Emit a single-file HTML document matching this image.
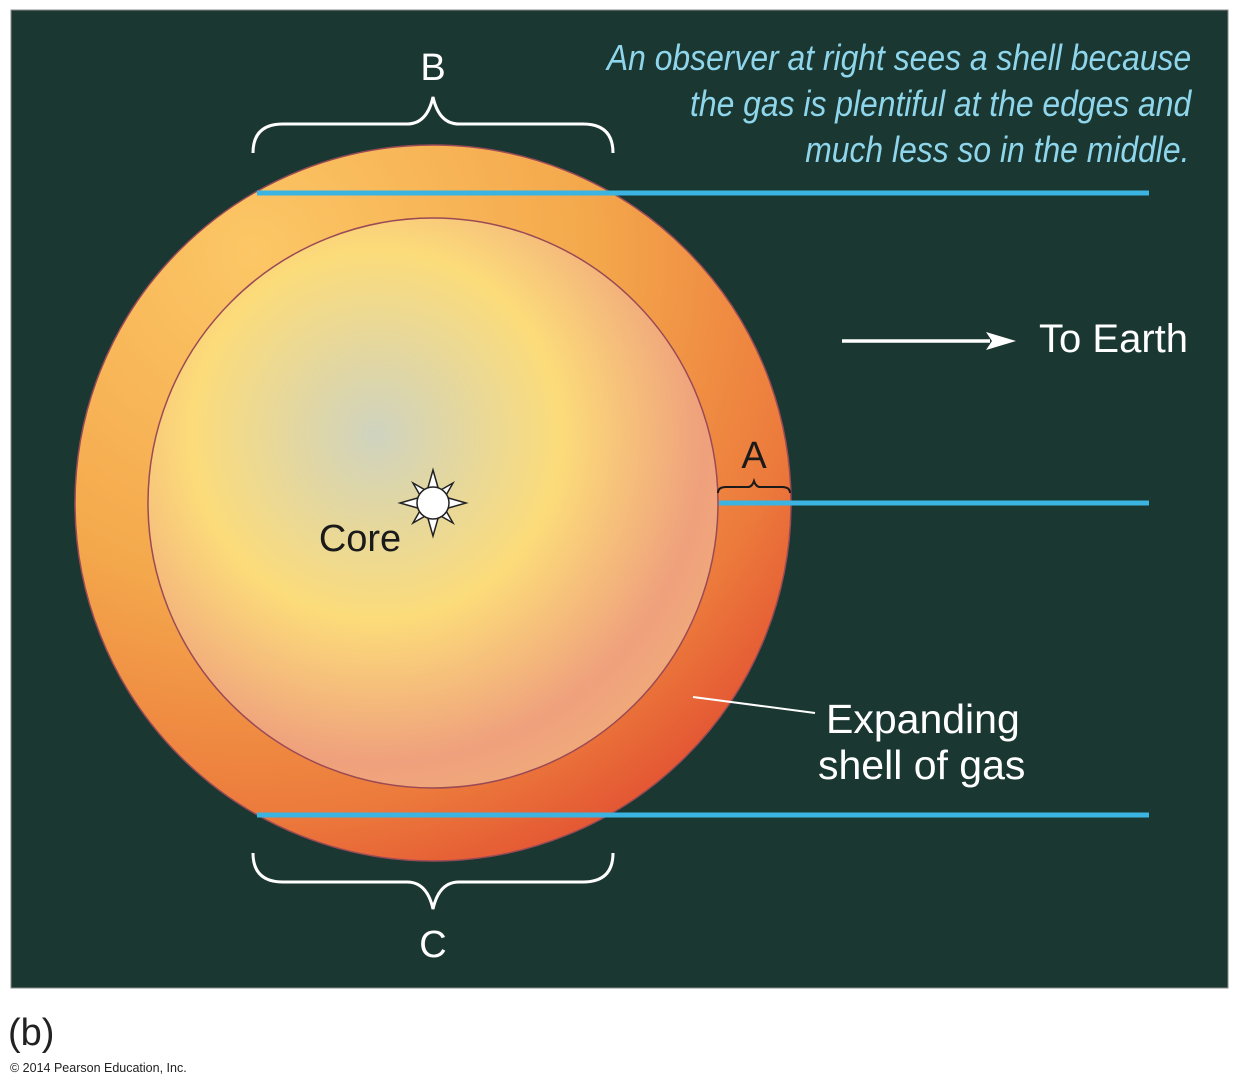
<!DOCTYPE html>
<html><head><meta charset="utf-8"><style>
html,body{margin:0;padding:0;background:#fff;}
body{width:1239px;height:1088px;overflow:hidden;position:relative;font-family:"Liberation Sans",sans-serif;}
</style></head><body>
<svg width="1239" height="1088" viewBox="0 0 1239 1088" xmlns="http://www.w3.org/2000/svg" style="position:absolute;left:0;top:0">
<defs>
<radialGradient id="outer" cx="0.25" cy="0.15" r="1.05">
<stop offset="0" stop-color="#fcc766"/>
<stop offset="0.45" stop-color="#f4a84c"/>
<stop offset="0.75" stop-color="#ec7a3c"/>
<stop offset="1" stop-color="#dd3a2c"/>
</radialGradient>
<radialGradient id="inner" cx="0.4" cy="0.38" r="0.72">
<stop offset="0" stop-color="#cfd3bf"/>
<stop offset="0.45" stop-color="#fcdc7a"/>
<stop offset="0.8" stop-color="#efa07c"/>
<stop offset="1" stop-color="#f2b07a"/>
</radialGradient>
</defs>
<rect x="11" y="10" width="1217" height="978" fill="#1a3831" stroke="#8a8a8a" stroke-width="1"/>
<circle cx="433" cy="503" r="358" fill="url(#outer)" stroke="#9a4a55" stroke-width="1.5"/>
<circle cx="433" cy="503" r="285" fill="url(#inner)" stroke="#9a4a55" stroke-width="1.5"/>
<g stroke="#3bb4e1" stroke-width="5">
<line x1="257" y1="193" x2="1149" y2="193"/>
<line x1="719" y1="503" x2="1149" y2="503"/>
<line x1="257" y1="815" x2="1149" y2="815"/>
</g>
<g fill="none" stroke="#fff" stroke-width="3">
<path d="M253 153 Q253 124 283 124 L407 124 Q427 124 433 97 Q439 124 459 124 L583 124 Q613 124 613 153"/>
<path d="M253 853 Q253 882 283 882 L407 882 Q427 882 433 909 Q439 882 459 882 L583 882 Q613 882 613 853"/>
</g>
<path d="M718 493 Q718 487 726 487 L748 487 Q752 487 754 481 Q756 487 760 487 L782 487 Q790 487 790 493" fill="none" stroke="#1a1a1a" stroke-width="2"/>
<g transform="translate(433,503)">
<polygon points="0,-33 6,-12 20,-20 12,-6 33,0 12,6 20,20 6,12 0,33 -6,12 -20,20 -12,6 -33,0 -12,-6 -20,-20 -6,-12" fill="#fff" stroke="#222" stroke-width="1.5"/>
<circle r="16" fill="#fff" stroke="#222" stroke-width="1.5"/>
</g>
<line x1="693" y1="697" x2="815" y2="713" stroke="#fff" stroke-width="2"/>
<line x1="842" y1="341" x2="990" y2="341" stroke="#fff" stroke-width="3.5"/>
<polygon points="1016,341 986,332 992,341 986,350" fill="#fff"/>
<g font-family="Liberation Sans, sans-serif" fill="#fff">
<text x="433" y="80" font-size="38" text-anchor="middle">B</text>
<text x="433" y="957" font-size="38" text-anchor="middle">C</text>
<text x="754" y="468" font-size="38" text-anchor="middle" fill="#1a1a1a">A</text>
<text x="360" y="551" font-size="38" text-anchor="middle" fill="#1a1a1a">Core</text>
<text x="1188" y="352" font-size="40" text-anchor="end">To Earth</text>
<text x="826" y="733" font-size="41">Expanding</text>
<text x="818" y="779" font-size="41">shell of gas</text>
<g fill="#8fd6ec" font-size="36" font-style="italic" text-anchor="end" transform="scale(0.885,1)">
<text x="1346" y="70">An observer at right sees a shell because</text>
<text x="1346" y="116">the gas is plentiful at the edges and</text>
<text x="1344" y="162">much less so in the middle.</text>
</g>
</g>
<text x="8" y="1045" font-size="38" fill="#222">(b)</text>
<text x="10" y="1072" font-size="12.5" fill="#222">© 2014 Pearson Education, Inc.</text>
</svg>
</body></html>
